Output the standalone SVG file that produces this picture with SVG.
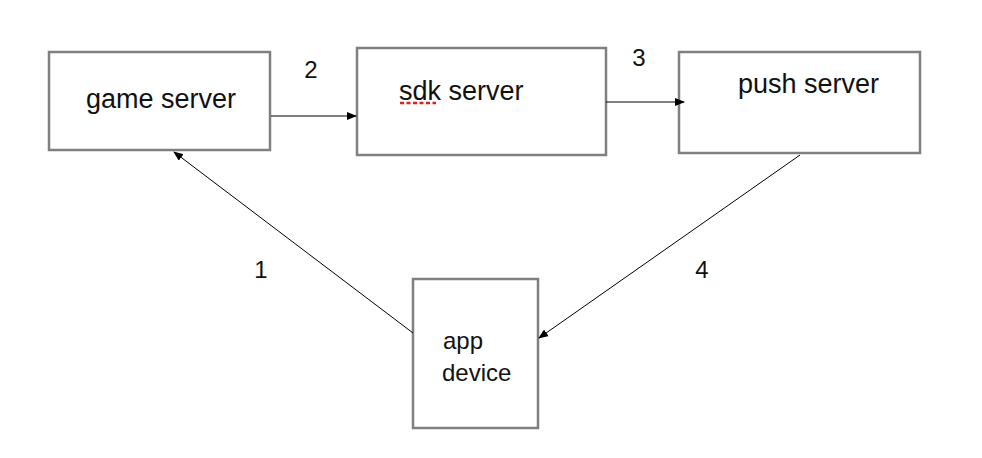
<svg xmlns="http://www.w3.org/2000/svg" width="982" height="458" viewBox="0 0 982 458">
<defs>
<style>
.box{fill:#fff;stroke:#808080;stroke-width:2.5}
.t{font-family:"Liberation Sans",Arial,sans-serif;font-size:27px;fill:#111}
.s{font-family:"Liberation Sans",Arial,sans-serif;font-size:24px;fill:#111}
.c{stroke:#000;stroke-width:1;fill:none;marker-end:url(#ah)}
</style>
<marker id="ah" markerWidth="10" markerHeight="8" refX="9" refY="4" orient="auto" markerUnits="userSpaceOnUse">
<path d="M0,0 L10,4 L0,8 Z" fill="#000"/>
</marker>
</defs>
<rect width="982" height="458" fill="#fff"/>
<g id="game-server">
<rect class="box" x="49" y="52" width="221" height="98"/>
<text class="t" x="86" y="108">game server</text>
</g>
<g id="sdk-server">
<rect class="box" x="357" y="48" width="249" height="107"/>
<text class="t" x="399" y="100">sdk server</text>
<line x1="400" y1="103" x2="436" y2="103" stroke="#e02020" stroke-width="2.5" stroke-dasharray="4,2.5"/>
</g>
<g id="push-server">
<rect class="box" x="679" y="52" width="241" height="101"/>
<text class="t" x="738" y="93">push server</text>
</g>
<g id="app-device">
<rect class="box" x="413" y="279" width="125" height="149"/>
<text class="s" x="443" y="349">app</text>
<text class="s" x="442" y="381">device</text>
</g>
<g id="connectors">
<line class="c" x1="271" y1="116" x2="356" y2="116"/>
<line class="c" x1="606" y1="102" x2="684" y2="102"/>
<line class="c" x1="413" y1="333" x2="174" y2="152"/>
<line class="c" x1="800" y1="155" x2="539" y2="338"/>
<text class="s" x="311" y="78" text-anchor="middle">2</text>
<text class="s" x="639" y="66" text-anchor="middle">3</text>
<text class="s" x="261" y="278" text-anchor="middle">1</text>
<text class="s" x="702" y="278" text-anchor="middle">4</text>
</g>
</svg>
